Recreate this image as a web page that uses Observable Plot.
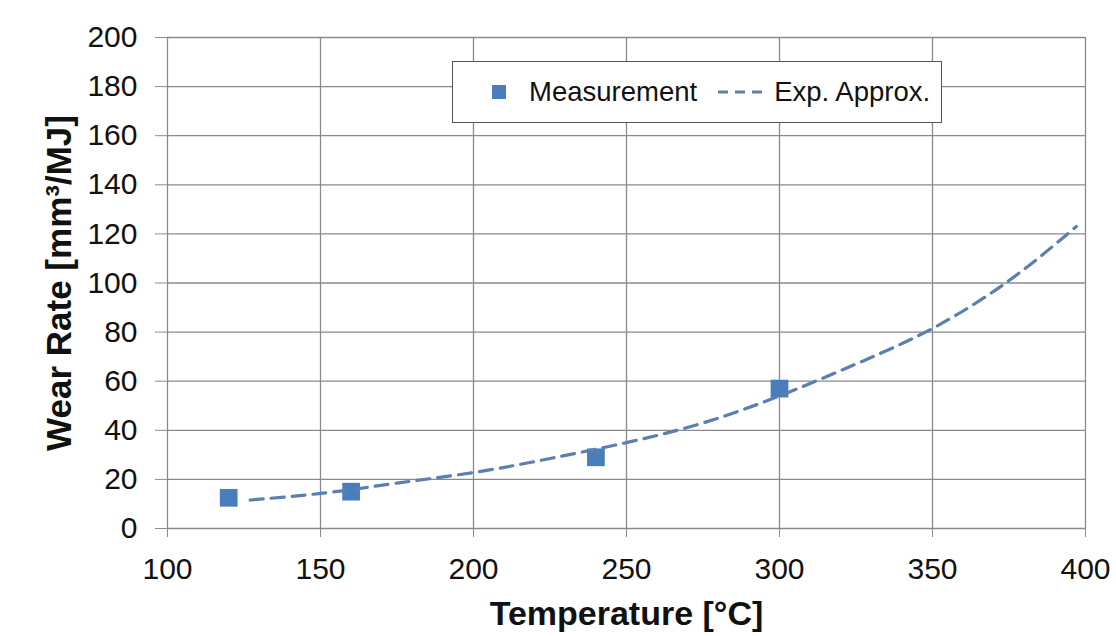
<!DOCTYPE html>
<html>
<head>
<meta charset="utf-8">
<script src="https://cdn.jsdelivr.net/npm/d3@7"></script>
<script src="https://cdn.jsdelivr.net/npm/@observablehq/plot@0.6"></script>
<style>
  html, body { margin: 0; padding: 0; background: #fff; }
  #wrap { position: relative; width: 1116px; height: 636px; font-family: "Liberation Sans", Arial, sans-serif; }
  #legend {
    position: absolute; left: 452px; top: 61px; width: 488px; height: 60px;
    border: 1.5px solid #555; background: #fff; box-sizing: content-box;
    display: flex; align-items: center; font-size: 27.5px; color: #111; white-space: nowrap;
  }
  #legend .item { display: flex; align-items: center; white-space: nowrap; }
  #legend svg { display: block; flex: none; }
</style>
</head>
<body>
<div id="wrap">
  <div id="legend">
    <div class="item" style="margin-left:38px">
      <svg width="16" height="16"><rect x="1" y="1" width="14" height="14" fill="#4a7ebb"></rect></svg>
      <span style="margin-left:22px">Measurement</span>
    </div>
    <div class="item" style="margin-left:20px">
      <svg width="52" height="10"><line x1="1" y1="5" x2="51" y2="5" stroke="#5b7fb0" stroke-width="3" stroke-dasharray="10,7"></line></svg>
      <span style="margin-left:5px">Exp. Approx.</span>
    </div>
  </div>
</div>
<script>
// Measured wear rates
const measTemp = [120, 160, 240, 300];
const measWear = [12.5, 15, 29, 57];

// Exponential approximation curve
const fitTemp = [127, 140, 150, 160, 175, 200, 225, 250, 275, 300, 325, 350, 375, 397];
const fitWear = [11.6, 13, 14.3, 15.8, 18.5, 22.8, 28.5, 35, 43, 54, 67, 81.5, 101, 123];

const xTicks = [100, 150, 200, 250, 300, 350, 400];
const yTicks = [0, 20, 40, 60, 80, 100, 120, 140, 160, 180, 200];

const xTitle = "Temperature [°C]";
const yTitle = "Wear Rate [mm³/MJ]";

const meas = measTemp.map((t, i) => ({t, w: measWear[i]}));
const fit = fitTemp.map((t, i) => ({t, w: fitWear[i]}));

const grid = "#8a8a8a";

const chart = Plot.plot({
  width: 1116,
  height: 636,
  marginLeft: 167,
  marginRight: 31,
  marginTop: 37,
  marginBottom: 108,
  style: { fontFamily: "'Liberation Sans', Arial, sans-serif", background: "transparent", color: "#111" },
  x: { domain: [100, 400] },
  y: { domain: [0, 200] },
  marks: [
    Plot.gridX(xTicks, { stroke: grid, strokeOpacity: 1, strokeWidth: 1.3 }),
    Plot.gridY(yTicks, { stroke: grid, strokeOpacity: 1, strokeWidth: 1.3 }),
    Plot.axisX(xTicks, { tickSize: 9, tickPadding: 20, fontSize: 30, stroke: grid, fill: "#111", label: null, tickFormat: d => String(d) }),
    Plot.axisY(yTicks, { tickSize: 12, tickPadding: 18, fontSize: 30, stroke: grid, fill: "#111", label: null, tickFormat: d => String(d) }),
    Plot.dot(meas, { x: "t", y: "w", symbol: "square", r: 10, fill: "#4a7ebb", stroke: null }),
    Plot.line(fit, { x: "t", y: "w", curve: "natural", stroke: "#5b7fb0", strokeWidth: 3.2, strokeDasharray: "13,8" }),
    Plot.text([xTitle], { frameAnchor: "bottom", dy: 86, fontSize: 34, fontWeight: "bold", fill: "#111", lineAnchor: "middle", textAnchor: "middle" }),
    Plot.text([yTitle], { frameAnchor: "left", dx: -108, rotate: -90, fontSize: 35, fontWeight: "bold", fill: "#111", lineAnchor: "middle", textAnchor: "middle" })
  ]
});
document.getElementById("wrap").prepend(chart);
</script>
</body>
</html>
